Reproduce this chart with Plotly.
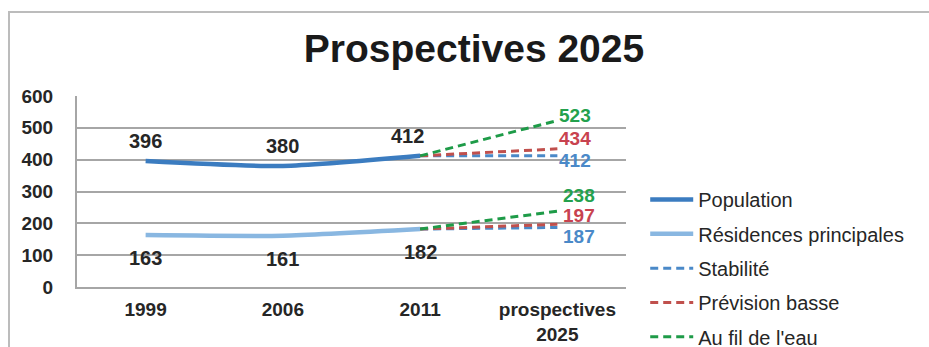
import plotly.graph_objects as go

# ---- data ----
categories = ["1999", "2006", "2011", "prospectives<br>2025"]
population = [396, 380, 412]
residences = [163, 161, 182]
scenario_names = ["Stabilité", "Prévision basse", "Au fil de l'eau"]
scen_population_2025 = [412, 434, 523]
scen_residences_2025 = [187, 197, 238]
y_ticks = [0, 100, 200, 300, 400, 500, 600]

# ---- style ----
W, H = 929, 347
ML, MR, MT, MB = 77, 303, 96, 60
TXT = "#262626"
GRID = "#a6a6a6"
C_POP = "#3b7cc0"
C_RES = "#89b7e1"
scen_colors = ["#4a89c8", "#c0504d", "#1e9b48"]
scen_label_colors = ["#4a89c8", "#c8424f", "#23a14d"]
# vertical pixel shifts of the end labels (pop, res) per scenario
scen_shift_pop = [-5, 10, 5]
scen_shift_res = [-9, 9, 16]
FONT = "Liberation Sans, Arial, sans-serif"

fig = go.Figure()

hist_x = categories[:3]
fig.add_trace(go.Scatter(x=hist_x, y=population, mode="lines", name="Population",
                         line=dict(color=C_POP, width=4.5, shape="spline", smoothing=0.6),
                         legendgroup="pop", hoverinfo="skip"))
fig.add_trace(go.Scatter(x=hist_x, y=residences, mode="lines", name="Résidences principales",
                         line=dict(color=C_RES, width=4.5, shape="spline", smoothing=0.6),
                         legendgroup="res", hoverinfo="skip"))

for i, name in enumerate(scenario_names):
    g = "s%d" % i
    fig.add_trace(go.Scatter(x=[categories[2], categories[3]],
                             y=[population[2], scen_population_2025[i]],
                             mode="lines", name=name, legendgroup=g,
                             line=dict(color=scen_colors[i], width=3, dash="8px,5px"),
                             hoverinfo="skip"))
    fig.add_trace(go.Scatter(x=[categories[2], categories[3]],
                             y=[residences[2], scen_residences_2025[i]],
                             mode="lines", name=name, legendgroup=g, showlegend=False,
                             line=dict(color=scen_colors[i], width=3, dash="8px,5px"),
                             hoverinfo="skip"))

annotations = []
pop_xshift = [0, 0, -13]
# category axis: annotations placed by category index
for idx, (v, xs) in enumerate(zip(population, pop_xshift)):
    annotations.append(dict(x=idx, y=v, text=str(v), showarrow=False, yshift=20, xshift=xs,
                            font=dict(family=FONT, size=20, color=TXT, weight="bold")))
for idx, v in enumerate(residences):
    annotations.append(dict(x=idx, y=v, text=str(v), showarrow=False, yshift=-23,
                            font=dict(family=FONT, size=20, color=TXT, weight="bold")))
end_idx = len(categories) - 1
for i in range(len(scenario_names)):
    annotations.append(dict(x=end_idx, y=scen_population_2025[i], text=str(scen_population_2025[i]),
                            showarrow=False, xanchor="left", xshift=0, yshift=scen_shift_pop[i],
                            font=dict(family=FONT, size=19, color=scen_label_colors[i], weight="bold")))
    annotations.append(dict(x=end_idx, y=scen_residences_2025[i], text=str(scen_residences_2025[i]),
                            showarrow=False, xanchor="left", xshift=4, yshift=scen_shift_res[i],
                            font=dict(family=FONT, size=19, color=scen_label_colors[i], weight="bold")))

pw = W - ML - MR
ph = H - MT - MB
frame = dict(type="rect", xref="paper", yref="paper",
             x0=(9 - ML) / pw, x1=(W + 20 - ML) / pw,
             y0=(H - MB - (H + 20)) / ph, y1=(H - MB - 12) / ph,
             line=dict(color="#bcbcbc", width=2), fillcolor="rgba(0,0,0,0)", layer="below")

fig.update_layout(
    width=W, height=H,
    margin=dict(l=ML, r=MR, t=MT, b=MB, autoexpand=False),
    paper_bgcolor="white", plot_bgcolor="white",
    font=dict(family=FONT, color=TXT),
    title=dict(text="<b>Prospectives 2025</b>", x=474 / W, y=1 - 48.5 / H,
               xanchor="center", yanchor="middle", xref="container", yref="container",
               font=dict(family=FONT, size=39, color="#1a1a1a")),
    xaxis=dict(type="category", categoryarray=categories, range=[-0.5, 3.5],
               showgrid=False, showline=True, linecolor=GRID, linewidth=2,
               ticks="", ticklabelstandoff=4, automargin=False,
               tickfont=dict(family=FONT, size=19, color=TXT, weight="bold"), fixedrange=True),
    yaxis=dict(range=[0, 600], tickvals=y_ticks, showgrid=True, gridcolor=GRID, gridwidth=1.5,
               showline=True, linecolor=GRID, linewidth=2, zeroline=False, ticks="",
               ticklabelstandoff=18, automargin=False,
               tickfont=dict(family=FONT, size=19, color=TXT, weight="bold"), fixedrange=True),
    legend=dict(x=1.035, y=0.56, xanchor="left", yanchor="top", itemwidth=43,
                tracegroupgap=5.3, font=dict(family=FONT, size=20, color=TXT),
                bgcolor="rgba(0,0,0,0)"),
    annotations=annotations,
    shapes=[frame],
    showlegend=True,
)

fig.write_html("out.html")
